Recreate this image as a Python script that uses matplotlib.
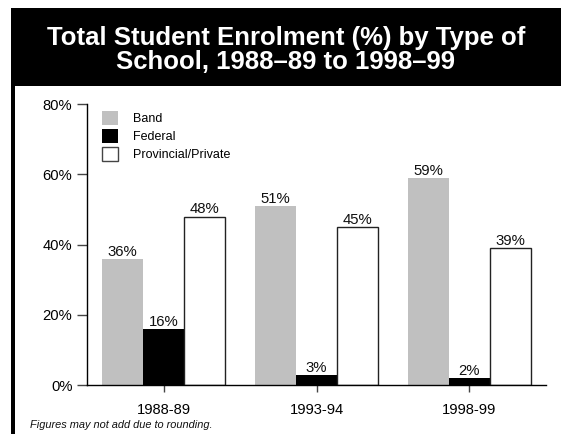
import matplotlib
matplotlib.use("Agg")
import matplotlib.pyplot as plt
from matplotlib.patches import Rectangle, Patch
import numpy as np

plt.rcParams['font.family'] = ['Liberation Sans', 'DejaVu Sans']

categories = ["1988-89", "1993-94", "1998-99"]
band = [36, 51, 59]
federal = [16, 3, 2]
provincial = [48, 45, 39]
series_names = ["Band", "Federal", "Provincial/Private"]
y_ticks = [0, 20, 40, 60, 80]
y_tick_labels = ["0%", "20%", "40%", "60%", "80%"]
title_lines = ["Total Student Enrolment (%) by Type of", "School, 1988\u201389 to 1998\u201399"]
footnote = "Figures may not add due to rounding."

W, H = 561, 434
fig = plt.figure(figsize=(W / 100, H / 100), dpi=100)
fig.patch.set_facecolor("white")

# Title box and left border strip
fig.patches.append(Rectangle((11 / W, (H - 86) / H), 550 / W, 78 / H,
                             transform=fig.transFigure, facecolor="black",
                             edgecolor="none", zorder=0))
fig.patches.append(Rectangle((11 / W, 0), 3.5 / W, (H - 86) / H,
                             transform=fig.transFigure, facecolor="black",
                             edgecolor="none", zorder=0))
fig.text(286 / W, (H - 45) / H, title_lines[0], color="white", fontsize=18.5,
         fontweight="bold", ha="center", va="baseline")
fig.text(286 / W, (H - 69) / H, title_lines[1], color="white", fontsize=18.5,
         fontweight="bold", ha="center", va="baseline")

ax = fig.add_axes([87.3 / W, (H - 385.3) / H, (545.7 - 87.3) / W, (385.3 - 104) / H])
x = np.arange(len(categories))
w = 0.268

b1 = ax.bar(x - w, band, w, color="#c0c0c0", edgecolor="none", label=series_names[0])
b2 = ax.bar(x, federal, w, color="black", edgecolor="none", label=series_names[1])
b3 = ax.bar(x + w, provincial, w, color="white", edgecolor="#222222",
            linewidth=1.0, label=series_names[2])

for bars, vals in [(b1, band), (b2, federal), (b3, provincial)]:
    for rect, v in zip(bars, vals):
        ax.annotate(f"{v}%", (rect.get_x() + rect.get_width() / 2, rect.get_height()),
                    xytext=(0, 2.2), textcoords="offset points",
                    ha="center", va="baseline", fontsize=10.7, color="#111111")

ax.set_xlim(-0.5, 2.5)
ax.set_ylim(0, 80)
ax.set_xticks(x)
ax.set_xticklabels(categories, fontsize=10.6)
ax.set_yticks(y_ticks)
ax.set_yticklabels(y_tick_labels, fontsize=10.6)
ax.tick_params(axis="y", length=7.2, width=1, pad=3.5, color="#444444")
ax.tick_params(axis="x", length=5, width=1, pad=8, color="#444444")
for s in ["top", "right"]:
    ax.spines[s].set_visible(False)
for s in ["left", "bottom"]:
    ax.spines[s].set_linewidth(1)
    ax.spines[s].set_color("black")
ax.set_facecolor("none")

handles = [Patch(facecolor="#c0c0c0", edgecolor="none"),
           Patch(facecolor="black", edgecolor="none"),
           Patch(facecolor="white", edgecolor="#444444", linewidth=1)]
fig.legend(handles, series_names, loc="upper left",
           bbox_to_anchor=(102 / W, (H - 111.5) / H),
           frameon=False, fontsize=9, handlelength=1.28, handleheight=1.28,
           handletextpad=1.2, labelspacing=0.32, borderpad=0, borderaxespad=0)

fig.text(30 / W, (H - 427.7) / H, footnote, fontsize=7.9, style="italic",
         ha="left", va="baseline", color="#111111")

fig.savefig("out.png", dpi=100)
